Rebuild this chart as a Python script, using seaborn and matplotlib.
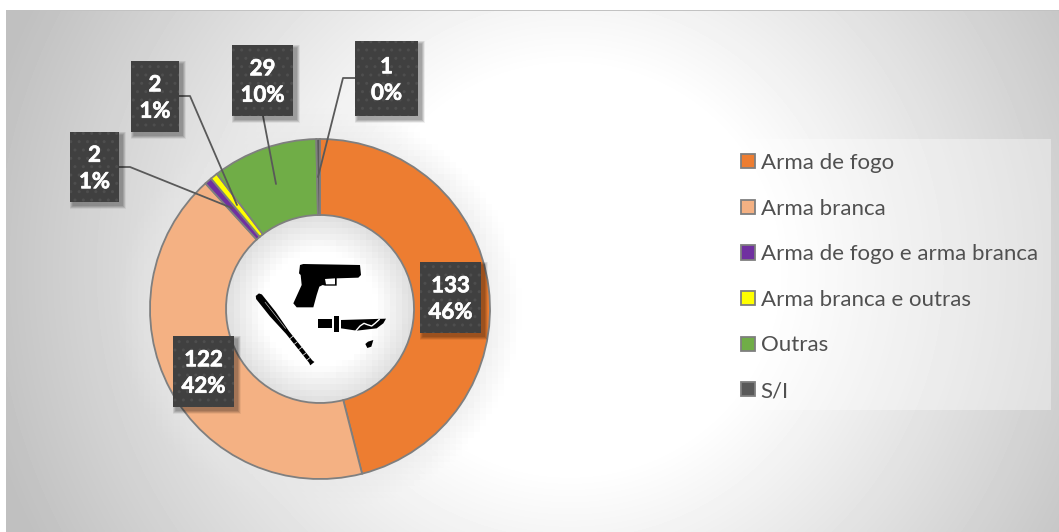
import numpy as np
import matplotlib
matplotlib.use("Agg")
import matplotlib.pyplot as plt
import matplotlib.patheffects as pe
from matplotlib.patches import Polygon, Rectangle
import seaborn as sns

categories = ["Arma de fogo", "Arma branca", "Arma de fogo e arma branca",
              "Arma branca e outras", "Outras", "S/I"]
values = [133, 122, 2, 2, 29, 1]
colors = ["#ED7D31", "#F4B183", "#7030A0", "#FFFF00", "#70AD47", "#595959"]

W, H = 1059, 532
CX, CY, R_OUT, R_IN = 320, 309, 170, 94

# label boxes in pixels (left, top, right, bottom), same order as values
boxes = [(420, 262, 481, 333), (173, 336, 234, 407), (70, 132, 119, 202),
         (131, 61, 179, 132), (232, 45, 293, 116), (355, 41, 418, 116)]
leaders = [None, None,
           [(119, 167), (130, 167), (232, 208)],
           [(179, 96), (190, 96), (237, 205)],
           [(263, 116), (276, 184)],
           [(355, 78), (343, 78), (318, 177)]]


def py(y):
    return H - y


def poly(ax, pts, ox, oy, color="black", z=3):
    xy = [(ox + x / 3, py(oy + y / 3)) for x, y in pts]
    ax.add_patch(Polygon(xy, closed=True, fc=color, ec="none", zorder=z))


def make_background():
    yy, xx = np.mgrid[0:H, 0:W] + 0.5
    t = np.sqrt(((xx - 570) / 570) ** 2 + ((yy - 270) / 560) ** 2)
    grey = 1 - np.clip((t - 0.36) / 0.70, 0, 1) * 0.25

    # soft blocky glow on both sides of the ring
    bx, by = xx // 6 * 6 + 3, yy // 6 * 6 + 3
    block = np.hypot(bx - CX, by - CY)
    dist = np.hypot(xx - CX, yy - CY)
    outer = np.clip(1 - (block - R_OUT) / 32, 0, 1)
    grey = grey * (1 - 0.6 * outer) + 0.90 * 0.6 * outer
    inner = np.clip(1 - (R_IN - block) / 38, 0, 1)
    grey = np.where(dist < R_IN + 2, 1 - 0.13 * inner, grey)

    grey[:10, :] = 1
    grey[:, :6] = 1
    grey[10:11, 6:] = np.minimum(grey[10:11, 6:], 0.76)
    return grey


sns.set_theme(style="white")
plt.rcParams["font.family"] = ["Lato", "DejaVu Sans"]
palette = sns.color_palette(colors)

fig = plt.figure(figsize=(W / 100, H / 100), dpi=100)
ax = fig.add_axes([0, 0, 1, 1])
ax.imshow(make_background(), cmap="gray", vmin=0, vmax=1,
          extent=(0, W, 0, H), origin="upper", zorder=0, interpolation="nearest")

wedges, _ = ax.pie(values, colors=palette, startangle=90, counterclock=False,
                   radius=R_OUT, center=(CX, py(CY)),
                   wedgeprops=dict(width=R_OUT - R_IN, edgecolor="#7f7f7f", linewidth=1.3))
ax.set_xlim(0, W)
ax.set_ylim(0, H)
ax.axis("off")

# legend panel
ax.add_patch(Rectangle((730, py(410)), 321, 271, fc="white", alpha=0.35, ec="none", zorder=1))
ax.legend(wedges, categories, loc="upper left", bbox_to_anchor=(729, py(141)),
          bbox_transform=ax.transData, frameon=False, fontsize=16,
          labelcolor="#505050", labelspacing=1.15, handlelength=0.6,
          handleheight=0.6, handletextpad=0.27, borderaxespad=0, borderpad=0.55)

# leader lines
for pts in leaders:
    if pts:
        xs, ys = zip(*pts)
        ax.plot(xs, [py(y) for y in ys], color="#595959", lw=1.3, zorder=4)

# data label boxes
total = sum(values)
for val, (x0, y0, x1, y1) in zip(values, boxes):
    for s in range(7, 0, -1):
        ax.add_patch(Rectangle((x0 + 3 - s / 2, py(y1 + 3 + s / 2)), x1 - x0 + s, y1 - y0 + s,
                               fc="black", alpha=0.055, ec="none", zorder=5))
    ax.add_patch(Rectangle((x0, py(y1)), x1 - x0, y1 - y0, fc="#404040", ec="none", zorder=6))
    ax.add_patch(Rectangle((x0, py(y1)), x1 - x0, y1 - y0, fc="none", ec="#4e4e4e",
                           hatch="..", lw=0, zorder=6))
    label = f"{val}\n{round(val / total * 100)}%"
    ax.text((x0 + x1) / 2, py((y0 + y1) / 2 + 1.5), label, color="white", fontsize=16,
            fontweight="bold", ha="center", va="center", linespacing=1.32, zorder=7,
            path_effects=[pe.withStroke(linewidth=0.5, foreground="white")])

# pistol
gun = [(60, 30), (70, 27), (240, 30), (243, 60), (235, 68), (170, 70), (170, 92),
       (135, 92), (128, 90), (118, 95), (110, 120), (100, 157), (50, 157),
       (40, 145), (65, 90), (62, 60), (57, 55)]
poly(ax, gun, 280, 255)
poly(ax, [(135, 72), (165, 70), (165, 88), (138, 88)], 280, 255, color="white", z=4)

# bat, tapered along its axis
start = np.array([22.0, 14.0])
axis_vec = np.array([165.0, 207.0])
unit = axis_vec / np.linalg.norm(axis_vec)
normal = np.array([unit[1], -unit[0]])
stations = [0.0, 0.03, 0.28, 0.55, 0.97, 1.0]
half_w = [6, 11, 11, 6, 6, 8]
side_a = [start + axis_vec * s + normal * w for s, w in zip(stations, half_w)]
side_b = [start + axis_vec * s - normal * w for s, w in zip(stations, half_w)]
poly(ax, side_a + side_b[::-1], 250, 290)
for s in [0.62, 0.70, 0.78, 0.86, 0.93]:
    c = start + axis_vec * s
    tape = [c + normal * 6, c - normal * 6]
    ax.plot([250 + p[0] / 3 for p in tape], [py(290 + p[1] / 3) for p in tape],
            color="white", lw=0.5, zorder=4)
hl = [start + axis_vec * 0.12 + normal * 4, start + axis_vec * 0.5 + normal * 3]
ax.plot([250 + p[0] / 3 for p in hl], [py(290 + p[1] / 3) for p in hl],
        color="#dddddd", lw=0.4, zorder=4)

# knife and drop
poly(ax, [(205, 88), (245, 88), (245, 115), (205, 115)], 250, 290)
poly(ax, [(253, 78), (266, 78), (266, 125), (253, 125)], 250, 290)
poly(ax, [(273, 90), (408, 86), (400, 100), (380, 115), (320, 122), (273, 115)], 250, 290)
wave_x = [318, 330, 342, 352, 365, 375, 388]
wave_y = [122, 108, 100, 104, 108, 100, 88]
ax.plot([250 + x / 3 for x in wave_x], [py(290 + y / 3) for y in wave_y],
        color="white", lw=1.0, zorder=4)
poly(ax, [(370, 150), (364, 170), (352, 174), (346, 162), (354, 155)], 250, 290)

fig.savefig("out.png", dpi=100)
